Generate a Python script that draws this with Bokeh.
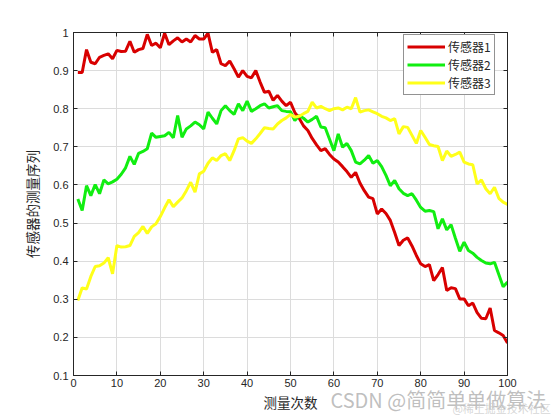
from bokeh.plotting import figure
from bokeh.models import (LinearAxis, FixedTicker, CustomJSTickFormatter, Range1d,
                          Legend, LegendItem)
from bokeh.core.properties import value
from bokeh.embed import file_html
from bokeh.resources import INLINE

x = list(range(1, 101))

sensor1 = [0.895, 0.895, 0.955, 0.922, 0.918, 0.935, 0.940, 0.944, 0.931, 0.953,
           0.950, 0.951, 0.977, 0.948, 0.955, 0.958, 0.995, 0.966, 0.972, 0.960,
           0.998, 0.968, 0.978, 0.986, 0.975, 0.983, 0.975, 0.992, 0.983, 0.983,
           0.998, 0.948, 0.955, 0.918, 0.913, 0.925, 0.905, 0.883, 0.900, 0.885,
           0.881, 0.900, 0.870, 0.843, 0.846, 0.822, 0.835, 0.820, 0.808, 0.817,
           0.790, 0.775, 0.755, 0.743, 0.722, 0.705, 0.690, 0.695, 0.680, 0.668,
           0.660, 0.648, 0.635, 0.620, 0.633, 0.605, 0.585, 0.568, 0.564, 0.524,
           0.537, 0.525, 0.507, 0.475, 0.441, 0.455, 0.461, 0.440, 0.415, 0.393,
           0.386, 0.391, 0.349, 0.365, 0.383, 0.323, 0.330, 0.328, 0.301, 0.301,
           0.283, 0.290, 0.265, 0.250, 0.249, 0.277, 0.218, 0.212, 0.205, 0.185]

sensor2 = [0.563, 0.533, 0.598, 0.572, 0.601, 0.577, 0.613, 0.603, 0.608, 0.615,
           0.628, 0.645, 0.675, 0.654, 0.683, 0.688, 0.695, 0.736, 0.725, 0.727,
           0.729, 0.738, 0.724, 0.782, 0.725, 0.747, 0.755, 0.765, 0.758, 0.747,
           0.791, 0.775, 0.760, 0.795, 0.808, 0.795, 0.785, 0.813, 0.795, 0.820,
           0.793, 0.800, 0.808, 0.813, 0.802, 0.805, 0.808, 0.795, 0.793, 0.792,
           0.769, 0.782, 0.775, 0.765, 0.772, 0.780, 0.752, 0.750, 0.720, 0.690,
           0.734, 0.699, 0.709, 0.690, 0.660, 0.655, 0.665, 0.677, 0.657, 0.664,
           0.648, 0.625, 0.598, 0.612, 0.590, 0.578, 0.572, 0.577, 0.560, 0.541,
           0.531, 0.533, 0.530, 0.485, 0.511, 0.482, 0.496, 0.460, 0.426, 0.450,
           0.428, 0.421, 0.410, 0.402, 0.395, 0.393, 0.397, 0.365, 0.333, 0.345]

sensor3 = [0.297, 0.330, 0.327, 0.360, 0.386, 0.388, 0.395, 0.409, 0.367, 0.441,
           0.437, 0.438, 0.441, 0.465, 0.475, 0.491, 0.473, 0.490, 0.498, 0.517,
           0.540, 0.561, 0.543, 0.555, 0.566, 0.585, 0.607, 0.581, 0.629, 0.636,
           0.657, 0.671, 0.664, 0.677, 0.682, 0.664, 0.690, 0.721, 0.724, 0.715,
           0.709, 0.721, 0.735, 0.750, 0.748, 0.747, 0.760, 0.769, 0.776, 0.785,
           0.778, 0.780, 0.787, 0.793, 0.817, 0.802, 0.806, 0.800, 0.795, 0.800,
           0.802, 0.797, 0.804, 0.800, 0.829, 0.791, 0.795, 0.797, 0.792, 0.787,
           0.780, 0.776, 0.769, 0.774, 0.734, 0.753, 0.751, 0.730, 0.709, 0.743,
           0.725, 0.706, 0.703, 0.701, 0.664, 0.689, 0.675, 0.680, 0.686, 0.660,
           0.655, 0.653, 0.603, 0.613, 0.590, 0.577, 0.594, 0.565, 0.555, 0.549]

series_names = ["传感器1", "传感器2", "传感器3"]
series_colors = ["#d80000", "#11ee11", "#ffff1a"]
x_ticks = [0, 10, 20, 30, 40, 50, 60, 70, 80, 90, 100]
y_ticks = [0.1, 0.2, 0.3, 0.4, 0.5, 0.6, 0.7, 0.8, 0.9, 1.0]
x_label = "测量次数"
y_label = "传感器的测量序列"
watermark = "CSDN @简简单单做算法"
watermark2 = "@稀土掘金技术社区"

AX = "#262626"
TICK_FONT = "Liberation Sans"
CJK = "Noto Sans CJK SC"

p = figure(width=560, height=420, output_backend="svg", toolbar_location=None,
           x_range=Range1d(0, 100), y_range=Range1d(0.1, 1.0),
           min_border_left=73, min_border_right=53, min_border_top=32, min_border_bottom=45,
           background_fill_color="white", border_fill_color="white")
p.outline_line_color = AX
p.outline_line_width = 1

fmt = CustomJSTickFormatter(code="return (Math.round(tick*10)/10).toString();")
blank = CustomJSTickFormatter(code="return '';")

for ax in (p.xaxis[0], p.yaxis[0]):
    ax.major_tick_in = 4
    ax.major_tick_out = 0
    ax.minor_tick_in = 0
    ax.minor_tick_out = 0
    ax.axis_line_color = AX
    ax.major_tick_line_color = AX
    ax.major_label_text_font = TICK_FONT
    ax.major_label_text_font_size = "11px"
    ax.major_label_text_color = "#262626"
    ax.axis_label_text_font = CJK
    ax.axis_label_text_font_size = "13.5px"
    ax.axis_label_text_font_style = "normal"
    ax.axis_label_text_color = "#262626"

p.xaxis[0].ticker = FixedTicker(ticks=x_ticks)
p.yaxis[0].ticker = FixedTicker(ticks=y_ticks)
p.yaxis[0].formatter = fmt
p.xaxis[0].axis_label = x_label
p.yaxis[0].axis_label = y_label
p.xaxis[0].major_label_standoff = 3
p.xaxis[0].axis_label_standoff = 2
p.yaxis[0].major_label_standoff = 5
p.yaxis[0].axis_label_standoff = 8

for loc, ticks in (("right", y_ticks), ("above", x_ticks)):
    a = LinearAxis(ticker=FixedTicker(ticks=ticks), formatter=blank,
                   major_tick_in=4, major_tick_out=0,
                   minor_tick_in=0, minor_tick_out=0, axis_line_color=AX,
                   major_tick_line_color=AX, major_label_standoff=0)
    p.add_layout(a, loc)

p.xgrid.ticker = FixedTicker(ticks=x_ticks)
p.ygrid.ticker = FixedTicker(ticks=y_ticks)
p.grid.grid_line_color = "#dcdcdc"
p.grid.grid_line_width = 1

renderers = []
for ys, c in zip([sensor1, sensor2, sensor3], series_colors):
    r = p.line(x, ys, line_color=c, line_width=3)
    renderers.append(r)

legend = Legend(items=[LegendItem(label=n, renderers=[r]) for n, r in zip(series_names, renderers)],
                location=(330, 280), orientation="vertical")
legend.label_text_font = CJK
legend.label_text_font_size = "12px"
legend.label_text_color = "#262626"
legend.glyph_width = 38
legend.glyph_height = 15
legend.label_height = 15
legend.label_standoff = 3
legend.spacing = 1
legend.padding = 3
legend.margin = 0
legend.border_line_color = AX
legend.border_line_width = 1
legend.background_fill_color = "white"
legend.background_fill_alpha = 1
p.add_layout(legend, "center")

# watermarks (text glyphs at overlay level so they are not clipped to the frame)
p.text(x=[59.2], y=[0.036], text=[watermark], text_font=value(CJK),
       text_font_size="20px", text_color="#b4b4b4", text_alpha=0.85,
       text_baseline="alphabetic", level="overlay")
p.text(x=[87.3], y=[0.016], text=[watermark2], text_font=value(CJK),
       text_font_size="11px", text_color="#cccccc", text_alpha=0.8,
       text_baseline="alphabetic", level="overlay")

open("out.html", "w").write(file_html(p, INLINE))
